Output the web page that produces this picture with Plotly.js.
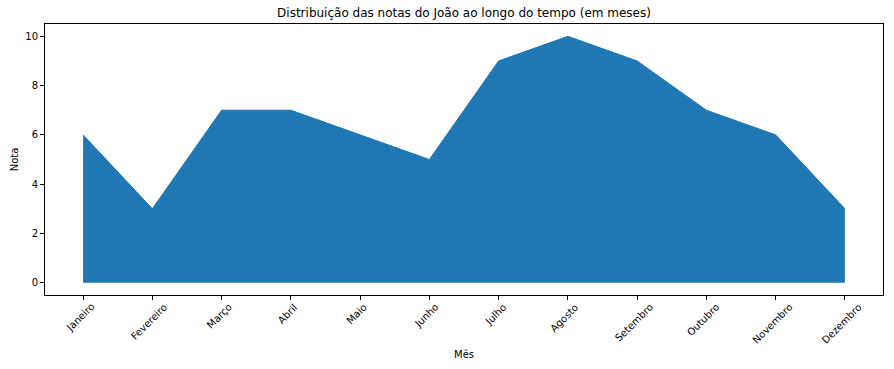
<!DOCTYPE html>
<html>
<head>
<meta charset="utf-8">
<script src="https://cdn.plot.ly/plotly-3.0.1.min.js"></script>
<style>html,body{margin:0;padding:0;background:#fff;}#chart{width:894px;height:369px;}</style>
</head>
<body>
<div id="chart"></div>
<script>
const months = ["Janeiro","Fevereiro","Março","Abril","Maio","Junho","Julho","Agosto","Setembro","Outubro","Novembro","Dezembro"];
const notas = [6,3,7,7,6,5,9,10,9,7,6,3];
const yTicks = [0,2,4,6,8,10];

const font = "DejaVu Sans, sans-serif";

const trace = {
  x: months.map((m,i)=>i),
  y: notas,
  type: "scatter",
  mode: "lines",
  fill: "tozeroy",
  fillcolor: "#1f77b4",
  line: {color: "#1f77b4", width: 1},
  hoverinfo: "skip"
};

const annotations = months.map((m,i)=>({
  x: i, xref: "x", y: -0.03, yref: "paper",
  text: m, showarrow: false, textangle: -45,
  xanchor: "center", yanchor: "top",
  xshift: -3, yshift: 3,
  font: {family: font, size: 10, color: "#000"},
  borderpad: 0
}));
annotations.push({
  x: 0.5, xref: "paper", y: -0.221, yref: "paper",
  text: "Mês", showarrow: false, xanchor: "center", yanchor: "middle",
  font: {family: font, size: 10, color: "#000"}
});

const layout = {
  width: 894, height: 369,
  margin: {l: 45, r: 11, t: 24, b: 74, pad: 0},
  paper_bgcolor: "#fff", plot_bgcolor: "#fff",
  showlegend: false,
  title: {text: "Distribuição das notas do João ao longo do tempo (em meses)",
          font: {family: font, size: 12, color: "#000"},
          x: 0.5, xref: "paper", xanchor: "center", y: 1 - 13/369, yanchor: "middle"},
  xaxis: {
    range: [-0.55, 11.55], tickmode: "array", tickvals: months.map((m,i)=>i), ticktext: months.map(()=>""),
    showgrid: false, zeroline: false, showline: true, mirror: true, linecolor: "#000", linewidth: 1,
    ticks: "outside", ticklen: 4, tickcolor: "#000", tickwidth: 1
  },
  yaxis: {
    range: [-0.5, 10.5], tickmode: "array", tickvals: yTicks, ticktext: yTicks.map(String),
    showgrid: false, zeroline: false, showline: true, mirror: true, linecolor: "#000", linewidth: 1,
    ticks: "outside", ticklen: 4, tickcolor: "#000", tickwidth: 1,
    tickfont: {family: font, size: 10, color: "#000"},
    title: {text: "Nota", font: {family: font, size: 10, color: "#000"}, standoff: 4}
  },
  annotations: annotations
};

Plotly.newPlot("chart", [trace], layout, {staticPlot: true, displayModeBar: false});
</script>
</body>
</html>
